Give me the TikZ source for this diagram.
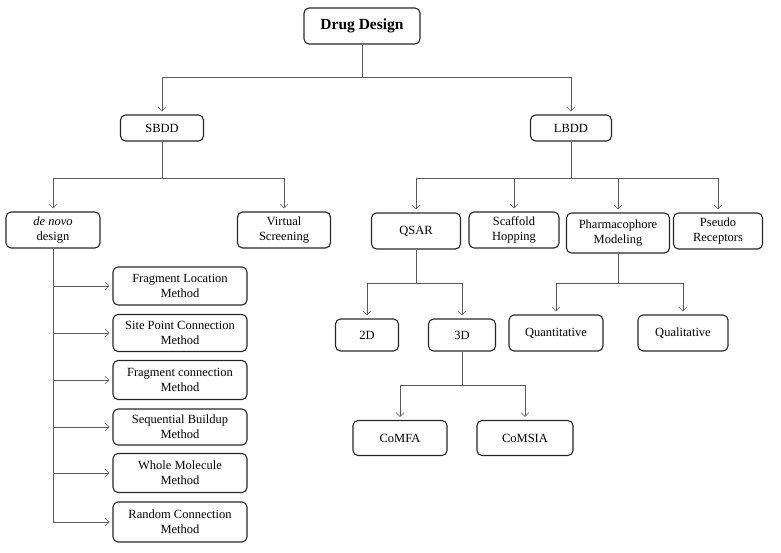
\documentclass[tikz,border=0pt]{standalone}
\usepackage{fontspec}
\setmainfont{Liberation Serif}
\usetikzlibrary{arrows.meta}
\tikzset{
  box/.style={draw=black!85,line width=1.1pt,rounded corners=5pt,align=center,
    font=\fontsize{12.5}{15}\selectfont,inner sep=2pt},
  link/.style={draw=black!65,line width=0.6pt},
  arr/.style={link,-{Straight Barb[length=4pt,width=8pt]},shorten >=3pt},
}
\begin{document}
\begin{tikzpicture}[x=1pt,y=-1pt]
\useasboundingbox (0,0) rectangle (781,552);

\node[box,minimum width=116pt,minimum height=36pt,font=\fontsize{15.5}{18}\selectfont\bfseries] (dd) at (362,26) {Drug Design};
\node[box,minimum width=83pt,minimum height=26pt] (sbdd) at (162,128) {SBDD};
\node[box,minimum width=81pt,minimum height=26pt] (lbdd) at (571,128) {LBDD};

\node[box,minimum width=94pt,minimum height=36pt] (denovo) at (53,230) {\textit{de novo}\\design};
\node[box,minimum width=93pt,minimum height=36pt] (vs) at (284,230) {Virtual\\Screening};

\node[box,minimum width=134pt,minimum height=38pt] (m1) at (180,286) {Fragment Location\\Method};
\node[box,minimum width=134pt,minimum height=37pt] (m2) at (180,333) {Site Point Connection\\Method};
\node[box,minimum width=134pt,minimum height=39pt] (m3) at (180,380) {Fragment connection\\Method};
\node[box,minimum width=134pt,minimum height=36pt] (m4) at (180,427) {Sequential Buildup\\Method};
\node[box,minimum width=134pt,minimum height=39pt] (m5) at (180,473) {Whole Molecule\\Method};
\node[box,minimum width=134pt,minimum height=40pt] (m6) at (180,522) {Random Connection\\Method};

\node[box,minimum width=89pt,minimum height=36pt] (qsar) at (416,231) {QSAR};
\node[box,minimum width=90pt,minimum height=36pt] (scaffold) at (514,230) {Scaffold\\Hopping};
\node[box,minimum width=103pt,minimum height=40pt] (pharma) at (618,233) {Pharmacophore\\Modeling};
\node[box,minimum width=89pt,minimum height=36pt] (pseudo) at (718,231) {Pseudo\\Receptors};

\node[box,minimum width=63pt,minimum height=32pt] (twod) at (367,335) {2D};
\node[box,minimum width=67pt,minimum height=32pt] (threed) at (462,335) {3D};
\node[box,minimum width=94pt,minimum height=36pt] (quanti) at (556,333) {Quantitative};
\node[box,minimum width=90pt,minimum height=36pt] (quali) at (683,333) {Qualitative};

\node[box,minimum width=94pt,minimum height=35pt] (comfa) at (400,438) {CoMFA};
\node[box,minimum width=96pt,minimum height=35pt] (comsia) at (525,438) {CoMSIA};

\coordinate (ddbus) at (362,77);
\coordinate (sbus) at (162,178);
\coordinate (lbus) at (571,178);
\coordinate (qbus) at (416,283);
\coordinate (pbus) at (618,283);
\coordinate (tbus) at (462,385);

\draw[link] (dd) -- (ddbus);
\draw[arr] (ddbus) -| (sbdd);
\draw[arr] (ddbus) -| (lbdd);

\draw[link] (sbdd) -- (sbus);
\draw[arr] (sbus) -| (denovo);
\draw[arr] (sbus) -| (vs);

\foreach \m in {m1,m2,m3,m4,m5,m6}
  \draw[arr] (denovo.south) |- (\m.west);

\draw[link] (lbdd) -- (lbus);
\foreach \n in {qsar,scaffold,pharma,pseudo}
  \draw[arr] (lbus) -| (\n);

\draw[link] (qsar) -- (qbus);
\draw[arr] (qbus) -| (twod);
\draw[arr] (qbus) -| (threed);

\draw[link] (pharma) -- (pbus);
\draw[arr] (pbus) -| (quanti);
\draw[arr] (pbus) -| (quali);

\draw[link] (threed) -- (tbus);
\draw[arr] (tbus) -| (comfa);
\draw[arr] (tbus) -| (comsia);

\end{tikzpicture}
\end{document}
